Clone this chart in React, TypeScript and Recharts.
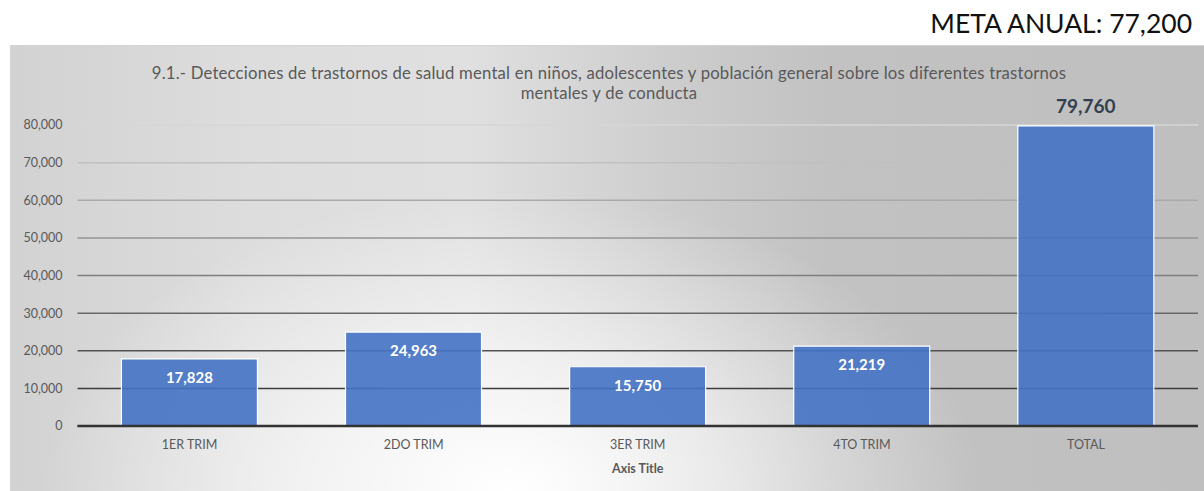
import React from 'react';
import { BarChart, Bar, XAxis, YAxis, CartesianGrid, LabelList } from 'recharts';

// Chart values
const categories = ['1ER TRIM', '2DO TRIM', '3ER TRIM', '4TO TRIM', 'TOTAL'];
const detections = [17828, 24963, 15750, 21219, 79760];
const yTicks = [0, 10000, 20000, 30000, 40000, 50000, 60000, 70000, 80000];
const titleLines = [
  '9.1.- Detecciones de trastornos de salud mental en niños, adolescentes y población general sobre los diferentes trastornos',
  'mentales y de conducta',
];
const goalText = 'META ANUAL: 77,200';
const xAxisTitle = 'Axis Title';

const data = categories.map((name, i) => ({ name, value: detections[i] }));

const fmt = (v: number) => v.toLocaleString('en-US');
const FONT = 'Lato, "Open Sans", sans-serif';

// White label inside the quarter bars, dark one above the total
const ValueLabel = (props: any) => {
  const { x, y, width, value, index } = props;
  const cx = Number(x) + Number(width) / 2;
  if (index === categories.length - 1) {
    return (
      <text x={cx} y={Number(y) - 20} dy="0.35em" textAnchor="middle" fill="#333F4F"
        style={{ fontFamily: FONT, fontSize: 19, fontWeight: 700 }}>
        {fmt(value)}
      </text>
    );
  }
  return (
    <text x={cx} y={Number(y) + 19} dy="0.35em" textAnchor="middle" fill="#ffffff"
      style={{ fontFamily: FONT, fontSize: 15, fontWeight: 700 }}>
      {fmt(value)}
    </text>
  );
};

export default function App() {
  return (
    <div style={{ position: 'absolute', left: 0, top: 0, width: 1204, height: 491, overflow: 'hidden', background: '#fff', fontFamily: FONT }}>
      <div style={{ position: 'absolute', right: 12, top: 8, fontSize: 26.5, color: '#111', lineHeight: '30px' }}>{goalText}</div>
      {/* chart frame with the grey/white gradient fill */}
      <div
        style={{
          position: 'absolute', left: 10, top: 45, width: 1204, height: 460,
          border: '1px solid #d4d4d4', boxSizing: 'border-box',
          background:
            'radial-gradient(ellipse 470px 300px at 500px 445px, rgba(255,255,255,1) 0%, rgba(255,255,255,0.6) 45%, rgba(255,255,255,0) 100%),' +
            'linear-gradient(to right, #d2d2d2 0%, #dddddd 20%, #e0e0e0 38%, #cdcdcd 55%, #c2c2c2 68%, #bfbfbf 100%)',
        }}
      />
      <div style={{ position: 'absolute', left: 0, width: 1204, top: 63, textAlign: 'center', color: '#595959', fontSize: 16.7, letterSpacing: 0.2, lineHeight: '20px' }}>
        <div style={{ marginLeft: 14 }}>{titleLines[0]}</div>
        <div style={{ marginLeft: 14 }}>{titleLines[1]}</div>
      </div>
      <div style={{ position: 'absolute', left: 0, top: 0 }}>
        <BarChart width={1204} height={491} data={data} margin={{ top: 125, right: 6, left: 0, bottom: 10 }} barCategoryGap="19.6%">
          <defs>
            <linearGradient id="gridShade" gradientUnits="userSpaceOnUse" x1="0" y1="125" x2="0" y2="426">
              <stop offset="0" stopColor="#d6d6d6" />
              <stop offset="1" stopColor="#262626" />
            </linearGradient>
          </defs>
          <CartesianGrid vertical={false} stroke="url(#gridShade)" strokeWidth={1.5} />
          <XAxis
            dataKey="name"
            height={55}
            tickLine={false}
            tickSize={0}
            tickMargin={14}
            axisLine={{ stroke: '#333333', strokeWidth: 2.4 }}
            tick={{ fill: '#595959', fontSize: 12.5, fontFamily: FONT }}
            label={{ value: xAxisTitle, position: 'insideBottom', offset: 8, fill: '#595959', fontSize: 12.5, fontWeight: 700, fontFamily: FONT }}
          />
          <YAxis
            width={77.5}
            domain={[0, 80000]}
            ticks={yTicks}
            tickFormatter={fmt}
            axisLine={false}
            tickLine={false}
            tickSize={0}
            tickMargin={15}
            tick={{ fill: '#595959', fontSize: 12.5, fontFamily: FONT }}
          />
          <Bar dataKey="value" fill="#4472C4" fillOpacity={0.9} stroke="#ffffff" strokeWidth={1.2} isAnimationActive={false}>
            <LabelList dataKey="value" content={<ValueLabel />} />
          </Bar>
        </BarChart>
      </div>
    </div>
  );
}
